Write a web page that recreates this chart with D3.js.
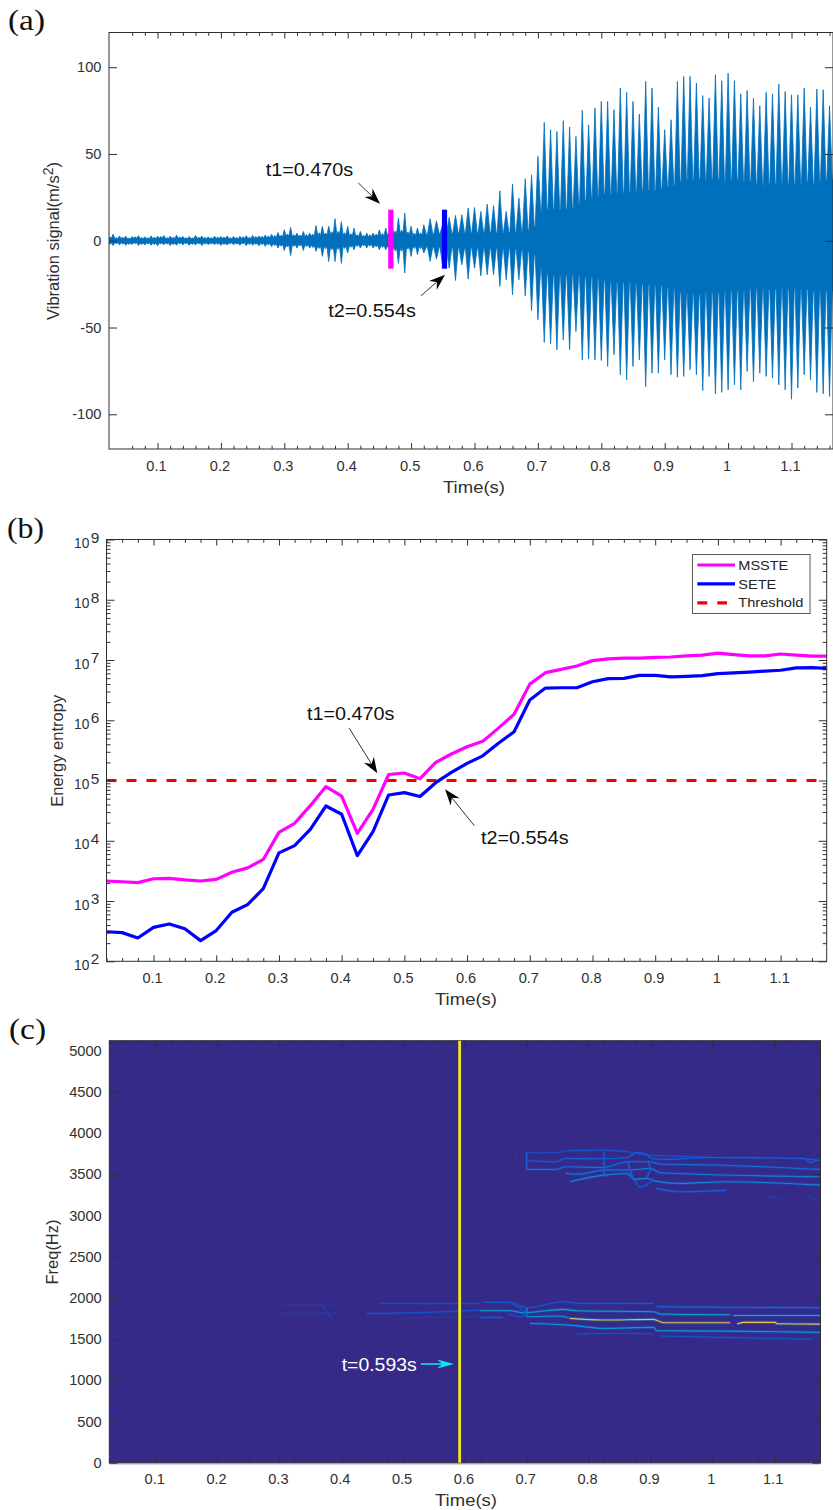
<!DOCTYPE html>
<html><head><meta charset="utf-8">
<script src="https://cdn.jsdelivr.net/npm/d3@7"></script>
<style>html,body{margin:0;padding:0;background:#fff;overflow:hidden}svg{display:block}text{font-family:"Liberation Sans",Arial,sans-serif}</style>
</head><body><svg id="c" width="833" height="1510"></svg>
<script>
// ---------- panel (a): beat peaks read at every 0.01 s from 0.02 s, core level between beats
const peakUpper=[3.4,3.8,2.8,2.6,2.4,2.9,2.2,2.8,2.6,3.0,2.6,3.2,2.5,2.4,3.0,2.7,2.2,2.6,2.5,2.8,2.4,2.6,2.9,3.0,2.8,3.3,3.7,4.8,6.3,7.7,4.4,5.4,4.4,8.8,8.3,8.3,12.7,11,8.3,7.3,5.4,4.4,4.4,6.3,7.3,9,13,16,8.3,7.3,
9.2,12.7,11.5,10,13.4,14.6,15,18.8,19.2,16.9,21.1,20.2,28.8,16.9,32.7,24.6,35.7,38,48.6,68.2,64,63,69.2,65.5,60.1,75.1,66.7,76.5,80.3,80.3,75.5,88,85.5,80.3,73,91.8,88,77,64,69.7,91.8,94.7,94.7,90.9,83.6,82.2,95.7,92.2,96.6,92.2,84.7,86.6,82.2,77.8,85.5,84.7,90.3,86,84.1,84.1,88,77,87.4,87,77.8,66];
const peakLower=[-2.6,-2.8,-2.4,-2.6,-2.2,-2.7,-2.4,-2.6,-2.9,-2.3,-2.8,-2.6,-2.4,-2.6,-2.5,-2.8,-2.3,-2.2,-2.7,-2.5,-2.3,-2.6,-2.8,-2.6,-2.9,-3.2,-3.4,-4.2,-5.6,-8.5,-4.2,-5.6,-4.2,-6.1,-9,-12,-12,-13,-7,-5.2,-4.2,-4.2,-4.2,-5.2,-5.2,-6,-13,-18.6,-9,-8,
-7.1,-11.9,-10.6,-15,-15.8,-22.9,-13.8,-22.1,-15.8,-20.2,-19.6,-19.6,-26.3,-22.5,-31.1,-22.5,-31.7,-40.2,-45.5,-58.6,-59.4,-62.8,-57.1,-62.8,-52.3,-68.6,-68.2,-68.6,-69,-72.4,-65.7,-77.2,-80.1,-72.4,-68.6,-84,-76.3,-76.3,-68.6,-77.2,-78.6,-78.2,-74.4,-77.2,-86.3,-78.2,-88.2,-87.4,-85.9,-83,-85.9,-75.3,-81.1,-76.3,-78.2,-79.2,-83,-85.9,-91.3,-84.9,-77.2,-80.1,-87.4,-88.2,-89.7,-84];
const valleyUpper=[1.4,1.2,1.3,1.1,1.4,1.2,1.3,1.1,1.5,1.2,1.3,1.4,1.1,1.2,1.3,1.2,1.1,1.3,1.4,1.2,1.1,1.3,1.2,1.4,1.5,1.6,
1.8,2.2,2.6,2.4,2.2,2.3,2.6,3.0,3.2,3.6,3.8,3.2,2.8,2.4,2.2,2.2,2.6,2.8,3.0,4.0,4.4,3.6,3.0,3.2,
3.4,3.8,4.0,4.2,4.2,4.4,4.4,4.6,4.4,4.6,4.6,4.4,4.8,4.6,5.0,5.4,6,8,
17,18,18,18,18,19,21,23,25,26,27,27,27.5,28,28,28.5,29,29,29,30,31,32,34,35,35,35,35,35,35,34,
35,35,34,34,33,32,33,33,33,33,33,33,34,33,34,35,35];
const valleyLower=[-1.3,-1.1,-1.2,-1.3,-1.1,-1.4,-1.2,-1.1,-1.3,-1.2,-1.4,-1.1,-1.2,-1.3,-1.1,-1.2,-1.3,-1.2,-1.4,-1.1,-1.3,-1.2,-1.1,-1.4,-1.3,-1.5,
-1.7,-2,-2.4,-2.2,-2,-2.2,-2.6,-3,-3.2,-3.4,-3.4,-3,-2.6,-2.2,-2,-2,-2.4,-2.6,-3,-4,-4.2,-3.4,-3,-3.2,
-3.4,-3.6,-3.8,-4,-4,-4.2,-4.2,-4.2,-4.4,-4.4,-4.4,-4.4,-4.6,-4.6,-4.8,-5,-6,-8,
-16,-19,-20,-20,-20,-20,-20,-21,-21,-22,-23,-24,-24,-24,-24,-25,-25,-25,-26,-26,-27,-28,-30,-31,-31,-31,-30,-30,-30,-29,
-29,-29,-29,-28,-28,-28,-28,-28,-28,-28,-28,-28,-28,-29,-29,-29,-29];
// small mid-beat ripple in the quiet stretch, 0.025 s to 0.515 s
const rippleUpper=[2.2,1.7,2.0,1.6,2.3,1.9,1.6,2.1,2.4,1.8,2.0,2.2,1.7,1.6,2.1,1.9,1.8,2.2,2.0,1.7,1.9,2.3,2.1,2.4,2.6,2.8,
3,3.2,3.9,3.4,3.3,3.6,3.8,4.6,4.4,5.2,5.4,4.6,4,3.5,3.2,3.4,3.8,4.2,4.4,5.6,6,5,4.4,4.6];
const rippleLower=[-2.0,-1.7,-1.9,-2.2,-1.6,-2.1,-1.8,-2.3,-1.7,-2.0,-2.2,-1.8,-1.6,-2.1,-1.9,-2.0,-1.7,-2.1,-2.2,-1.8,-1.9,-1.7,-2.2,-2.0,-2.3,-2.5,
-2.8,-3.1,-3.6,-3.2,-3,-3.4,-3.9,-4.4,-4.6,-5.2,-5,-4.4,-3.8,-3.2,-3,-3.1,-3.5,-3.9,-4.4,-5.8,-6,-4.8,-4.4,-4.6];
const signalYTicks=[-100,-50,0,50,100];
const timeTicksA=[.1,.2,.3,.4,.5,.6,.7,.8,.9,1,1.1];
const markTimes=[0.468,0.5527];
const markRange=[17.9,-16.1];
// ---------- panel (b)
const entropyTimes=d3.range(47).map(i=>(i+1)*0.025);
const mssteLog10=[3.333,3.32,3.305,3.37,3.377,3.35,3.333,3.36,3.477,3.55,3.69,4.14,4.29,4.583,4.9,4.743,4.124,4.522,5.1,5.125,5.03,5.3,5.44,5.56,5.65,5.87,6.1,6.6,6.79,6.845,6.9,6.99,7.02,7.03,7.03,7.045,7.05,7.07,7.08,7.115,7.09,7.07,7.07,7.1,7.08,7.065,7.065];
const seteLog10=[2.49,2.476,2.387,2.564,2.62,2.54,2.343,2.51,2.813,2.94,3.206,3.8,3.92,4.19,4.577,4.44,3.753,4.15,4.76,4.8,4.735,4.964,5.136,5.285,5.41,5.62,5.81,6.336,6.535,6.54,6.54,6.64,6.69,6.695,6.745,6.745,6.72,6.73,6.74,6.775,6.785,6.8,6.817,6.83,6.87,6.875,6.86];
const thresholdValue=1e5;
const entropyDecades=[2,3,4,5,6,7,8,9];
const legendNames=["MSSTE","SETE","Threshold"];
// ---------- panel (c): ridges as [time, freq], with a level on the colour map
const ridgePaths=[
[[.95,4900],[1.17,4960]],
[[.2957,1811],[.398,1811]],[[.3065,1912],[.3873,1912]],[[.3658,1932],[.39,1700]],
[[.4412,1811],[.52,1820],[.6245,1851]],[[.4628,1932],[.6245,1932]],[[.5,1760],[.6245,1770]],
[[.662,3771],[.678,3830],[.685,3670]],
[[.70,3759],[.7485,3759],[.762,3783],[.824,3791],[.862,3771],[.894,3731],[.991,3710]],
[[.70,3662],[.7485,3650],[.762,3690],[.824,3686],[.862,3702],[.878,3763],[.894,3739],[.902,3690],[.926,3678],[.991,3702],[1.142,3690],[1.174,3662]],
[[.70,3557],[.7485,3557],[.762,3589],[.824,3581],[.864,3650],[.897,3650],[.916,3622],[1.002,3610],[1.174,3557]],
[[.762,3508],[.786,3500],[.824,3549],[.867,3549],[.899,3569],[.916,3517],[1.174,3468]],
[[.77,3407],[.824,3488],[.862,3508],[.874,3436],[.894,3448],[.908,3415],[.948,3387],[1.023,3407],[1.174,3367]],
[[.91,3327],[.948,3286],[1.023,3306]],
[[.874,3436],[.883,3347],[.894,3367],[.905,3436]],
[[.70,3771],[.70,3551]],[[.825,3771],[.825,3468]],[[.864,3650],[.867,3549],[.874,3436]],[[.897,3650],[.90,3557],[.894,3448]],
[[1.15,3690],[1.16,3640],[1.17,3680]],[[1.09,3235],[1.11,3190]],[[1.15,3240],[1.17,3190]],
[[.63,1944],[.673,1944],[.6946,1891],[.70,1879],[.759,1952],[.781,1932],[.905,1932]],
[[.91,1891],[1.174,1879]],
[[.6245,1843],[.673,1843],[.6946,1819],[.759,1859],[.781,1843],[.905,1831],[.916,1803],[1.029,1794]],
[[1.034,1786],[1.174,1786]],
[[.70,1770],[.754,1778],[.77,1750]],
[[.77,1750],[.824,1730],[.905,1738],[.921,1698],[1.029,1698]],
[[1.04,1681],[1.05,1702],[1.102,1702],[1.104,1685],[1.174,1681]],
[[.705,1689],[.77,1669],[.824,1629],[.905,1641],[.91,1600],[1.029,1596],[1.174,1580]],
[[.916,1536],[1.174,1495]],
[[.6245,1762],[.662,1762]],
[[.70,1879],[.70,1770]],
[[.678,1920],[.694,1850],[.70,1800]],[[.67,1800],[.69,1770],[.70,1800]],
[[.78,1560],[.85,1570],[.905,1560]]];
const ridgeLevels=[.03,.08,.08,.1,.2,.15,.08,.06,.2,.28,.33,.38,.42,.28,.26,.3,.3,.32,.3,.25,.1,.1,.22,.32,.55,.6,.45,.92,.95,.5,.22,.25,.5,.25,.2,.18];
const freqTicks=[0,500,1000,1500,2000,2500,3000,3500,4000,4500,5000];
const detectTime=0.5915;

const ink="#303030";
const svg=d3.select("#c");
const parula=d3.scaleLinear().domain([0,.25,.4,.55,.7,.8,.9,1]).range(["#352A87","#0F5CDD","#1481D6","#06A4CA","#2EB7A4","#87BF77","#D1BB59","#FEC832"]);

function frame(box,x,y,xMajor,xMinor,yMajor,yMinor,fmtY){
  const g=svg.append("g");
  const style=a=>{a.select(".domain").remove();a.selectAll("line").attr("stroke",ink).attr("stroke-width",1);
    a.selectAll("text").attr("fill",ink).attr("font-size",14.6).attr("font-family","Liberation Sans");};
  const put=(axis,tx,ty)=>g.append("g").attr("transform",`translate(${tx},${ty})`).call(axis).call(style);
  put(d3.axisBottom(x).tickValues(xMajor).tickSize(-6).tickPadding(11.2).tickFormat(d=>d3.format("~g")(d)),0,box.b).selectAll("text").attr("dx",-1.5);
  put(d3.axisTop(x).tickValues(xMajor).tickSize(-6).tickFormat(""),0,box.t);
  put(d3.axisBottom(x).tickValues(xMinor).tickSize(-3.3).tickFormat(""),0,box.b);
  put(d3.axisTop(x).tickValues(xMinor).tickSize(-3.3).tickFormat(""),0,box.t);
  put(d3.axisLeft(y).tickValues(yMajor).tickSize(-8).tickPadding(7.6).tickFormat(fmtY),box.l,0);
  put(d3.axisRight(y).tickValues(yMajor).tickSize(-8).tickFormat(""),box.r,0);
  if(yMinor.length){
    put(d3.axisLeft(y).tickValues(yMinor).tickSize(-4).tickFormat(""),box.l,0);
    put(d3.axisRight(y).tickValues(yMinor).tickSize(-4).tickFormat(""),box.r,0);
  }
  g.append("rect").attr("x",box.l).attr("y",box.t).attr("width",box.r-box.l).attr("height",box.b-box.t)
    .attr("fill","none").attr("stroke",ink).attr("stroke-width",1);
  return g;
}
function label(txt,x,y,size,len,fill,rot){
  const t=svg.append("text").attr("font-size",size).attr("fill",fill||ink).text(txt);
  if(rot) t.attr("transform",`translate(${x},${y}) rotate(-90)`).attr("text-anchor","middle");
  else t.attr("x",x).attr("y",y);
  if(len) t.attr("textLength",len).attr("lengthAdjust","spacingAndGlyphs");
  return t;
}
function panelTag(txt,x,y){label(txt,x,y,30,37,"#111").style("font-family","Liberation Serif");}
function arrow(x0,y0,x1,y1,col,lw,len,hw){
  const a=Math.atan2(y1-y0,x1-x0),ca=Math.cos(a),sa=Math.sin(a);
  const P=(f,s)=>[x1-f*ca-s*sa,y1-f*sa+s*ca];
  svg.append("line").attr("x1",x0).attr("y1",y0).attr("x2",P(len*.7,0)[0]).attr("y2",P(len*.7,0)[1]).attr("stroke",col).attr("stroke-width",lw);
  svg.append("path").attr("d",d3.line()([[x1,y1],P(len,hw),P(len*.68,0),P(len,-hw)])+"Z").attr("fill",col);
}
const defs=svg.append("defs");

// ===== (a) =====
const boxA={l:109,r:833,t:32.5,b:449};
const xA=d3.scaleLinear().domain([.0235,.0235+724/634]).range([boxA.l,boxA.r]);
const yA=d3.scaleLinear().domain([-120,120]).range([boxA.b,boxA.t]);
defs.append("clipPath").attr("id","ca").append("rect").attr("x",boxA.l).attr("y",boxA.t).attr("width",724).attr("height",boxA.b-boxA.t);
const signal=[];
peakUpper.forEach((u,i)=>{
  const t=.02+i*.01;
  signal.push({t,hi:u,lo:peakLower[i]});
  if(i<valleyUpper.length){
    const rippled=i<rippleUpper.length, off=rippled?.0028:.0043;
    signal.push({t:t+off,hi:valleyUpper[i],lo:valleyLower[i]});
    if(rippled) signal.push({t:t+.005,hi:rippleUpper[i],lo:rippleLower[i]});
    signal.push({t:t+.01-off,hi:valleyUpper[i],lo:valleyLower[i]});
  }
});
svg.append("path").datum(signal).attr("clip-path","url(#ca)").attr("fill","#0070BD").attr("stroke","#0070BD").attr("stroke-width",.8)
  .attr("d",d3.area().x(d=>xA(d.t)).y0(d=>yA(d.lo)).y1(d=>yA(d.hi)));
svg.selectAll(".mark").data(markTimes).join("line").attr("x1",d=>xA(d)).attr("x2",d=>xA(d))
  .attr("y1",yA(markRange[0])).attr("y2",yA(markRange[1])).attr("stroke-width",5.2)
  .attr("stroke",(d,i)=>i?"#0000FF":"#FF00FF");
frame(boxA,xA,yA,timeTicksA,d3.range(3,59).map(i=>i*.02).filter(v=>Math.abs(v*10-Math.round(v*10))>1e-6),signalYTicks,[],d=>d3.format("d")(d).replace("−","-"));
const ylA=label("",59,241,16.5,null,ink,true);
ylA.append("tspan").text("Vibration signal(m/s");
ylA.append("tspan").attr("dy",-6).attr("font-size",14).text("2");
ylA.append("tspan").attr("dy",6).text(")");
label("Time(s)",443,492.7,16.5,62);
label("t1=0.470s",xA(.2707),yA(37.5),18,87.5,"#111");
label("t2=0.554s",xA(.3694),yA(-44),18,87.5,"#111");
arrow(xA(.4167),yA(33.3),xA(.451),yA(21.3),"#000",.8,16,5.8);
arrow(xA(.5156),yA(-31.7),xA(.5535),yA(-19.6),"#000",.8,16,5.8);
panelTag("(a)",8,30);

// ===== (b) =====
const boxB={l:106.5,r:826.7,t:539.5,b:961.3};
const xB=d3.scaleLinear().domain([.025,1.1735]).range([boxB.l,boxB.r]);
const yB=d3.scaleLog().domain([1e2,1e9]).range([boxB.b,boxB.t]);
defs.append("clipPath").attr("id","cb").append("rect").attr("x",boxB.l).attr("y",boxB.t).attr("width",boxB.r-boxB.l).attr("height",boxB.b-boxB.t);
const lineB=d3.line().x((d,i)=>xB(entropyTimes[i])).y(d=>yB(10**d));
svg.append("line").attr("clip-path","url(#cb)").attr("x1",boxB.l).attr("x2",boxB.r).attr("y1",yB(thresholdValue)).attr("y2",yB(thresholdValue))
  .attr("stroke","#F80000").attr("stroke-width",3).attr("stroke-dasharray","10 10");
[[mssteLog10,"#FF00FF"],[seteLog10,"#0000FF"]].forEach(([s,c])=>
  svg.append("path").datum(s).attr("clip-path","url(#cb)").attr("fill","none").attr("stroke",c).attr("stroke-width",3.2).attr("stroke-linejoin","round").attr("d",lineB));
const logMinor=entropyDecades.slice(0,-1).flatMap(e=>[2,3,4,5,6,7,8,9].map(m=>m*10**e));
frame(boxB,xB,yB,timeTicksA,d3.range(1,47).map(i=>i*.025).filter(v=>Math.abs(v*10-Math.round(v*10))>1e-6),entropyDecades.map(e=>10**e),logMinor,()=>"");
entropyDecades.forEach(e=>{
  label("10",74,yB(10**e)+8.7,14.6,15.3);
  label(String(e),90.7,yB(10**e)+3,14.6,8.6);
});
label("Energy entropy",62.7,750.8,16.4,112,ink,true);
label("Time(s)",435,1005,16.5,62);
label("t1=0.470s",xB(.3448),yB(10**6.004),18,87.5,"#111");
label("t2=0.554s",xB(.6223),yB(10**3.947),18,87.5,"#111");
arrow(xB(.4122),yB(10**5.867),xB(.4569),yB(10**5.12),"#000",.8,16,5.8);
arrow(xB(.6116),yB(10**4.25),xB(.5649),yB(10**4.854),"#000",.8,16,5.8);
const lg=svg.append("g");
lg.append("rect").attr("x",692.5).attr("y",554.5).attr("width",117.5).attr("height",59).attr("fill","#fff").attr("stroke","#5a5a5a").attr("stroke-width",1);
legendNames.forEach((n,i)=>{
  const yy=565+i*18.9;
  lg.append("line").attr("x1",697.3).attr("x2",i==2?727:735).attr("y1",yy).attr("y2",yy)
    .attr("stroke",["#FF00FF","#0000FF","#F80000"][i]).attr("stroke-width",3.2).attr("stroke-dasharray",i==2?"10 10":null);
  const w=[50,38,65][i];
  lg.append("text").attr("x",738.3).attr("y",yy+4.6).attr("font-size",12.6).attr("fill","#222").attr("textLength",w).attr("lengthAdjust","spacingAndGlyphs").text(n);
});
panelTag("(b)",7,538);

// ===== (c) =====
const boxC={l:109.3,r:820.5,t:1040.7,b:1462.7};
const xC=d3.scaleLinear().domain([.025,1.175]).range([boxC.l,boxC.r]);
const yC=d3.scaleLinear().domain([0,5118]).range([boxC.b,boxC.t]);
defs.append("clipPath").attr("id","cc").append("rect").attr("x",boxC.l).attr("y",boxC.t).attr("width",boxC.r-boxC.l).attr("height",boxC.b-boxC.t);
svg.append("rect").attr("x",boxC.l).attr("y",boxC.t).attr("width",boxC.r-boxC.l).attr("height",boxC.b-boxC.t).attr("fill",parula(0));
const lineC=d3.line().x(d=>xC(d[0])).y(d=>yC(d[1])).curve(d3.curveMonotoneX);
const lineV=d3.line().x(d=>xC(d[0])).y(d=>yC(d[1]));
const rg=svg.append("g").attr("clip-path","url(#cc)");
ridgePaths.forEach((r,i)=>{
  const monotone=r.every((p,k)=>!k||p[0]>r[k-1][0]);
  const gen=monotone?lineC:lineV;
  rg.append("path").datum(r).attr("fill","none").attr("stroke",parula(ridgeLevels[i]*.55)).attr("stroke-opacity",.35).attr("stroke-width",3.2).attr("d",gen);
  rg.append("path").datum(r).attr("fill","none").attr("stroke",parula(ridgeLevels[i])).attr("stroke-width",1.1).attr("d",gen);
});
svg.append("line").attr("x1",boxC.l).attr("x2",boxC.r).attr("y1",boxC.b+1.2).attr("y2",boxC.b+1.2).attr("stroke","#9490c0").attr("stroke-width",1);
frame(boxC,xC,yC,timeTicksA,d3.range(1,47).map(i=>i*.025).filter(v=>Math.abs(v*10-Math.round(v*10))>1e-6),freqTicks,[],d=>String(d));
svg.append("line").attr("x1",xC(detectTime)).attr("x2",xC(detectTime)).attr("y1",boxC.t).attr("y2",boxC.b).attr("stroke","#EFE916").attr("stroke-width",2.8);
label("t=0.593s",xC(.4008),yC(1115),18,75,"#fff");
arrow(xC(.5286),yC(1197),xC(.5824),yC(1197),"#14E6F5",1.5,17,4.6);
label("Freq(Hz)",58.3,1252,16.5,65,ink,true);
label("Time(s)",435,1506,16.5,62);
panelTag("(c)",9,1039);
</script></body></html>
